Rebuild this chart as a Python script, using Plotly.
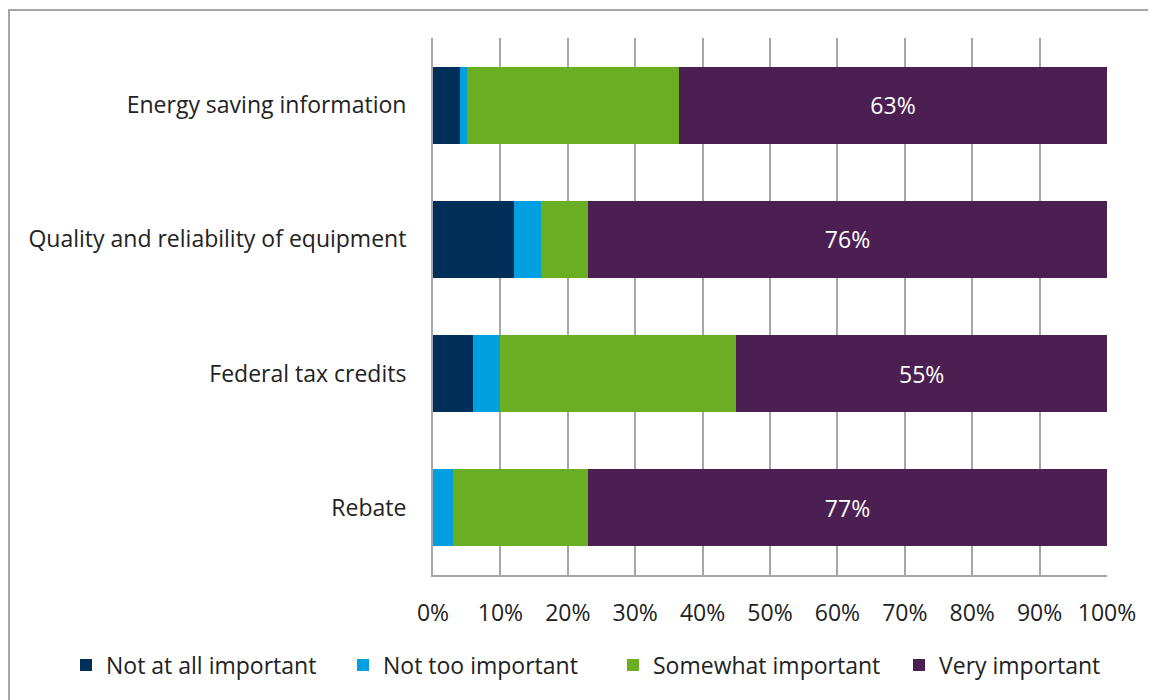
import plotly.graph_objects as go

# categories, top to bottom as shown
categories = ["Energy saving information", "Quality and reliability of equipment",
              "Federal tax credits", "Rebate"]

not_at_all = [4, 12, 6, 0]
not_too = [1, 4, 4, 3]
somewhat = [31.5, 7, 35, 20]
very = [63.5, 77, 55, 77]
very_labels = ["63%", "76%", "55%", "77%"]

series_names = ["Not at all important", "Not too important", "Somewhat important", "Very important"]
colors = ["#00305A", "#009FDF", "#6AAF23", "#4C1F53"]

tick_vals = [0, 10, 20, 30, 40, 50, 60, 70, 80, 90, 100]
tick_text = ["0%", "10%", "20%", "30%", "40%", "50%", "60%", "70%", "80%", "90%", "100%"]

font_family = "Open Sans, Liberation Sans, sans-serif"

# page body has an 8px margin, so the figure is a little smaller than the window
W, H = 1148, 692
L, R, T, B = 425, 49, 30, 125
pw, ph = W - L - R, H - T - B

# left edge of each legend entry (figure px), one legend per series
legend_left = [72, 349, 619, 905]
legend_mid_y = 657

fig = go.Figure()
legend_layouts = {}
for i, (name, vals, col) in enumerate(zip(series_names, [not_at_all, not_too, somewhat, very], colors)):
    is_very = name == "Very important"
    lg = "legend" if i == 0 else f"legend{i + 1}"
    fig.add_trace(go.Bar(
        y=categories, x=vals, name=name, orientation="h",
        marker=dict(color=col, line=dict(width=0)),
        text=very_labels if is_very else None,
        textposition="inside" if is_very else "none",
        insidetextanchor="middle",
        textfont=dict(color="white", size=23, family=font_family),
        hoverinfo="x+name",
        legend=lg,
        showlegend=True,
    ))
    legend_layouts[lg] = dict(
        orientation="h", x=(legend_left[i] - 14 - L) / pw, xanchor="left",
        y=(ph - (legend_mid_y - T)) / ph, yanchor="middle",
        font=dict(size=23), itemwidth=30, bgcolor="rgba(0,0,0,0)",
    )

fig.update_layout(
    barmode="stack",
    bargap=0.425,
    showlegend=True,
    width=W, height=H,
    margin=dict(l=L, r=R, t=T, b=B),
    paper_bgcolor="white",
    plot_bgcolor="white",
    font=dict(family=font_family, size=23, color="#222222"),
    xaxis=dict(range=[0, 100], tickvals=tick_vals, ticktext=tick_text,
               showgrid=True, gridcolor="#A6A6A6", gridwidth=2,
               showline=True, linecolor="#A6A6A6", linewidth=2,
               ticks="", ticklabelstandoff=16, zeroline=False),
    yaxis=dict(categoryorder="array", categoryarray=categories[::-1],
               showgrid=False, showline=True, linecolor="#A6A6A6", linewidth=2,
               ticks="", ticklabelstandoff=20),
    shapes=[dict(type="rect", xref="paper", yref="paper",
                 x0=(1 - L) / pw, x1=1.12, y0=-0.3, y1=(ph + T - 2) / ph,
                 line=dict(color="#A6A6A6", width=2), layer="below")],
    **legend_layouts,
)

fig.write_html("out.html")
